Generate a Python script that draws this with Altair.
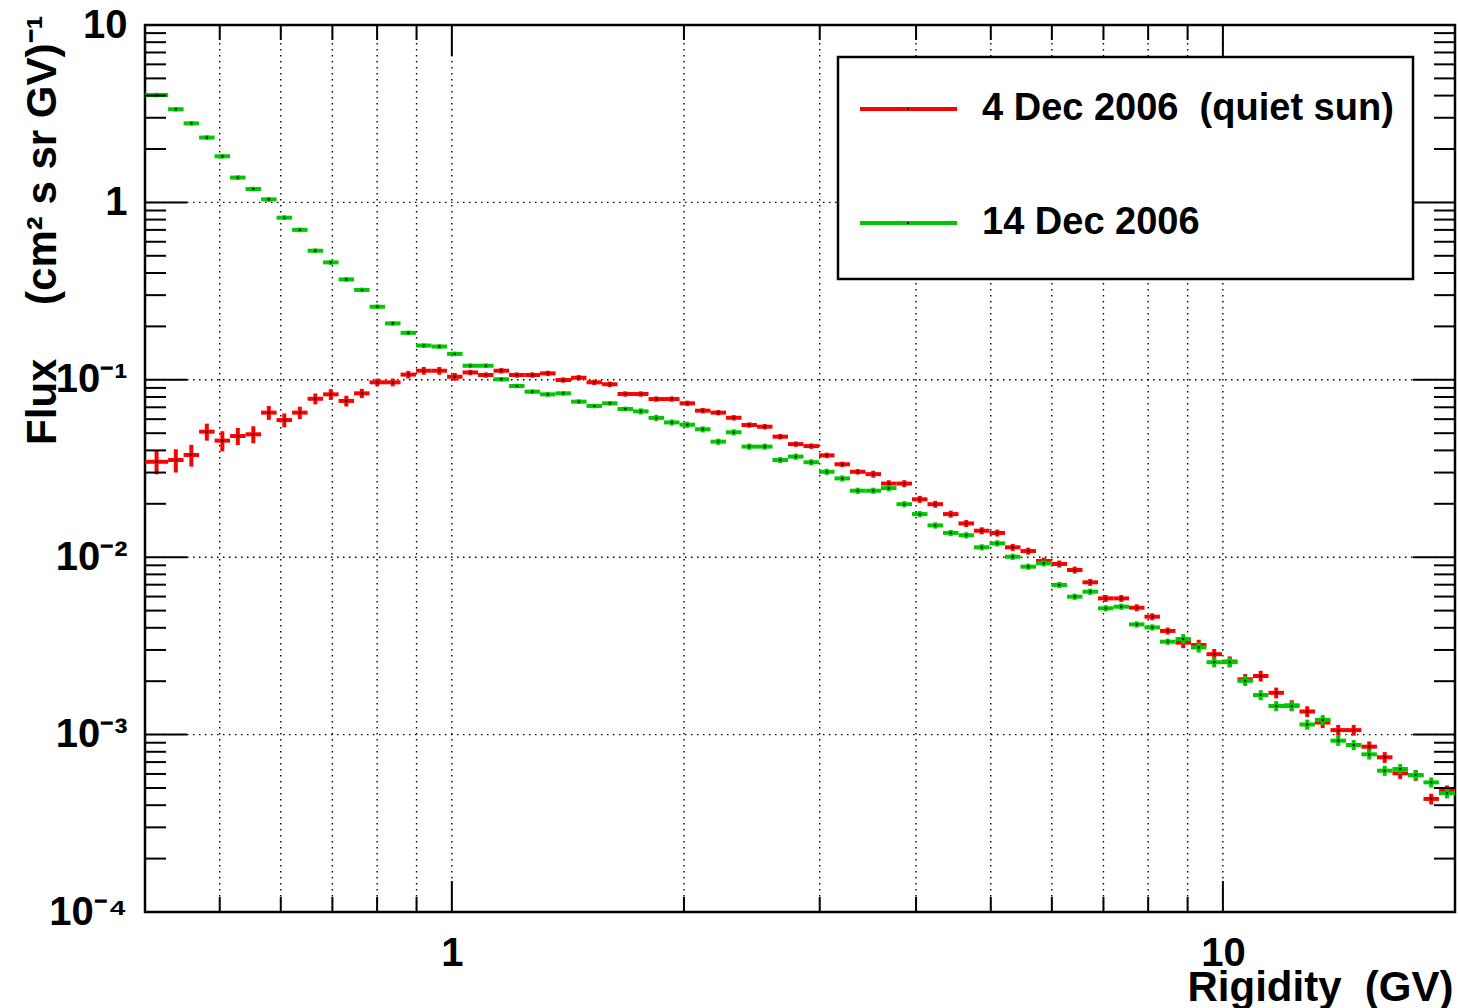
import math
import altair as alt
import pandas as pd

# ---------------- data ----------------
R_MIN, R_MAX = 0.4, 20.0            # rigidity range of the histogram (GV)
FIRST_INNER_EDGE_LOG = -0.368       # log10 of the first inner bin edge
LOG_BIN_WIDTH = 0.0201              # bin width in decades
N_BINS = 84

SERIES_NAMES = ["4 Dec 2006\u00a0\u00a0(quiet sun)", "14 Dec 2006"]
SERIES_COLORS = ["#ff0000", "#00c800"]

FLUX_QUIET = [
    0.0345, 0.0353, 0.0377, 0.0510, 0.0454, 0.0482, 0.0493, 0.0653, 0.0593, 0.0653,
    0.0782, 0.0828, 0.0760, 0.0839, 0.0968, 0.0968, 0.107, 0.1125, 0.1125, 0.104,
    0.110, 0.1064, 0.1125, 0.1064, 0.1064, 0.1087, 0.0997, 0.1027, 0.0968, 0.0944,
    0.0832, 0.0832, 0.0779, 0.0779, 0.0737, 0.0670, 0.0653, 0.0611, 0.0556, 0.0544,
    0.0478, 0.0434, 0.0423, 0.0375, 0.0334, 0.0303, 0.0294, 0.0260, 0.0260, 0.0212,
    0.0199, 0.0175, 0.0155, 0.0141, 0.0137, 0.01137, 0.01083, 0.00952, 0.00916, 0.00847,
    0.00722, 0.00586, 0.00586, 0.00519, 0.00462, 0.00384, 0.00330, 0.00320, 0.00284, 0.00258,
    0.00205, 0.00214, 0.00172, 0.00146, 0.00135, 0.00117, 0.00106, 0.00106, 0.000855, 0.000745,
    0.000605, 0.000590, 0.000434, 0.000483,
]
FLUX_DEC14 = [
    4.03, 3.35, 2.79, 2.32, 1.82, 1.38, 1.19, 1.04, 0.82, 0.70,
    0.534, 0.459, 0.368, 0.321, 0.258, 0.208, 0.184, 0.156, 0.154, 0.140,
    0.120, 0.120, 0.1007, 0.0923, 0.0857, 0.0828, 0.0839, 0.0753, 0.0712, 0.0737,
    0.0685, 0.0664, 0.0610, 0.0575, 0.0558, 0.0526, 0.0448, 0.0506, 0.0420, 0.0420,
    0.0353, 0.0369, 0.0343, 0.0303, 0.0278, 0.0237, 0.0237, 0.0245, 0.0199, 0.0175,
    0.0151, 0.0137, 0.0133, 0.01137, 0.01197, 0.01006, 0.00884, 0.00924, 0.00697, 0.00599,
    0.00639, 0.00515, 0.00526, 0.00418, 0.00402, 0.00334, 0.00346, 0.00310, 0.00256, 0.00256,
    0.00201, 0.00167, 0.00145, 0.00145, 0.00114, 0.00121, 0.000924, 0.000874, 0.000774, 0.000626,
    0.000640, 0.000592, 0.000538, 0.000467,
]
# relative statistical errors
ERR_QUIET = [
    0.15, 0.15, 0.14, 0.11, 0.13, 0.11, 0.11, 0.09, 0.09, 0.08,
    0.07, 0.07, 0.07, 0.06, 0.05, 0.05, 0.05, 0.05, 0.05, 0.05,
    0.035, 0.035, 0.035, 0.035, 0.035, 0.035, 0.035, 0.035, 0.035, 0.035,
    0.035, 0.035, 0.035, 0.035, 0.035, 0.035, 0.035, 0.035, 0.035, 0.035,
    0.035, 0.035, 0.035, 0.035, 0.035, 0.035, 0.045, 0.045, 0.045, 0.045,
    0.045, 0.045, 0.045, 0.045, 0.045, 0.045, 0.045, 0.045, 0.045, 0.045,
    0.045, 0.045, 0.045, 0.045, 0.045, 0.045, 0.07, 0.07, 0.07, 0.07,
    0.07, 0.07, 0.07, 0.07, 0.07, 0.07, 0.07, 0.07, 0.07, 0.07,
    0.07, 0.07, 0.07, 0.07,
]
ERR_DEC14 = [
    0.03, 0.03, 0.03, 0.03, 0.03, 0.03, 0.03, 0.03, 0.03, 0.03,
    0.03, 0.03, 0.03, 0.03, 0.03, 0.03, 0.03, 0.03, 0.03, 0.03,
    0.03, 0.03, 0.03, 0.03, 0.03, 0.03, 0.03, 0.03, 0.03, 0.03,
    0.03, 0.04, 0.04, 0.04, 0.04, 0.04, 0.04, 0.04, 0.04, 0.04,
    0.04, 0.04, 0.04, 0.04, 0.04, 0.04, 0.04, 0.04, 0.04, 0.04,
    0.04, 0.04, 0.04, 0.04, 0.04, 0.04, 0.04, 0.04, 0.04, 0.04,
    0.04, 0.04, 0.04, 0.04, 0.04, 0.04, 0.065, 0.065, 0.065, 0.065,
    0.065, 0.065, 0.065, 0.065, 0.065, 0.065, 0.065, 0.065, 0.065, 0.065,
    0.065, 0.065, 0.065, 0.065,
]

X_LABEL_VALUES = [1, 10]
X_LABELS = ["1", "10"]
X_MINOR = [0.5, 0.6, 0.7, 0.8, 0.9, 2, 3, 4, 5, 6, 7, 8, 9]
X_GRID = [0.5, 0.6, 0.7, 0.8, 0.9, 1, 2, 3, 4, 5, 6, 7, 8, 9, 10]
Y_DECADES = [1e-4, 1e-3, 1e-2, 1e-1, 1, 10]
Y_LABELS = ["10\u207b\u2074", "10\u207b\u00b3", "10\u207b\u00b2", "10\u207b\u00b9", "1", "10"]
Y_GRID = [1e-3, 1e-2, 1e-1, 1]
Y_MINOR = [m * 10.0 ** e for e in range(-4, 1) for m in range(2, 10)]

X_TITLE = "Rigidity\u00a0\u00a0(GV)"
Y_TITLE = "Flux\u2002\u2002\u00a0(cm\u00b2 s sr GV)\u207b\u00b9"

# ---------------- layout / style ----------------
FONT = "Liberation Sans"
W, H = 1310, 887

edges_log = ([math.log10(R_MIN)]
             + [FIRST_INNER_EDGE_LOG + LOG_BIN_WIDTH * k for k in range(N_BINS - 1)]
             + [math.log10(R_MAX)])


def series_frame(flux, err):
    rows = []
    for i, (f, e) in enumerate(zip(flux, err)):
        a, b = edges_log[i], edges_log[i + 1]
        rows.append(dict(lo=10 ** a, hi=10 ** b, center=10 ** ((a + b) / 2),
                         flux=f, flux_lo=f * (1 - e), flux_hi=f * (1 + e)))
    return pd.DataFrame(rows)


def label_expr(values, labels):
    expr = "''"
    for v, lab in zip(values, labels):
        expr = f"abs(log(datum.value)/LN10 - ({math.log10(v)})) < 0.01 ? '{lab}' : ({expr})"
    return expr


XS = alt.Scale(type="log", domain=[R_MIN, R_MAX], nice=False)
YS = alt.Scale(type="log", domain=[1e-4, 10], nice=False)

X_AXIS = alt.Axis(values=X_LABEL_VALUES, labelExpr=label_expr(X_LABEL_VALUES, X_LABELS),
                  ticks=False, domain=False, grid=False,
                  labelFont=FONT, labelFontSize=40, labelFontWeight="bold", labelColor="black",
                  labelPadding=21, labelFlush=False, labelOverlap=False,
                  title=X_TITLE, titleFont=FONT, titleFontSize=42, titleFontWeight="bold",
                  titleColor="black", titleAlign="right", titleAnchor="end",
                  titleX=W - 2, titleY=88, titleBaseline="alphabetic")
Y_AXIS = alt.Axis(values=Y_DECADES, labelExpr=label_expr(Y_DECADES, Y_LABELS),
                  ticks=False, domain=False, grid=False,
                  labelFont=FONT, labelFontSize=40, labelFontWeight="bold", labelColor="black",
                  labelPadding=18, labelBaseline="middle", labelFlush=False, labelOverlap=False,
                  title=Y_TITLE, titleFont=FONT, titleFontSize=42, titleFontWeight="bold",
                  titleColor="black", titleAngle=270, titleAlign="right",
                  titleBaseline="middle", titleX=-103, titleY=-10)

DOT = dict(color="black", strokeWidth=1.4, strokeDash=[1.5, 4.5])

grid_v = alt.Chart(pd.DataFrame({"v": X_GRID})).mark_rule(**DOT).encode(
    x=alt.X("v:Q", scale=XS, axis=X_AXIS), y=alt.value(0), y2=alt.value(H))
grid_h = alt.Chart(pd.DataFrame({"v": Y_GRID})).mark_rule(**DOT).encode(
    y=alt.Y("v:Q", scale=YS, axis=Y_AXIS), x=alt.value(0), x2=alt.value(W))

layers = [grid_v, grid_h]
for flux, err, col in [(FLUX_QUIET, ERR_QUIET, SERIES_COLORS[0]),
                       (FLUX_DEC14, ERR_DEC14, SERIES_COLORS[1])]:
    df = series_frame(flux, err)
    base = alt.Chart(df)
    bars = base.mark_rule(color=col, strokeWidth=4).encode(
        x=alt.X("lo:Q", scale=XS, axis=X_AXIS), x2="hi:Q",
        y=alt.Y("flux:Q", scale=YS, axis=Y_AXIS))
    errs = base.mark_rule(color=col, strokeWidth=4).encode(
        x=alt.X("center:Q", scale=XS, axis=X_AXIS),
        y=alt.Y("flux_lo:Q", scale=YS, axis=Y_AXIS), y2="flux_hi:Q")
    dots = base.mark_square(color="black", size=4, opacity=1).encode(
        x=alt.X("center:Q", scale=XS, axis=X_AXIS),
        y=alt.Y("flux:Q", scale=YS, axis=Y_AXIS))
    layers += [bars, errs, dots]

# legend box (drawn by hand, ROOT style)
one = pd.DataFrame({"a": [0]})
layers.append(alt.Chart(one).mark_rect(fill="white", stroke="black", strokeWidth=2.5).encode(
    x=alt.value(693), x2=alt.value(1268), y=alt.value(32), y2=alt.value(254)))
for name, col, yrow in zip(SERIES_NAMES, SERIES_COLORS, [84, 198]):
    layers.append(alt.Chart(one).mark_rule(color=col, strokeWidth=4).encode(
        x=alt.value(715), x2=alt.value(812), y=alt.value(yrow)))
    layers.append(alt.Chart(one).mark_square(color="black", size=4, opacity=1).encode(
        x=alt.value(763), y=alt.value(yrow)))
    layers.append(alt.Chart(one).mark_text(
        align="left", baseline="middle", font=FONT, fontSize=38, fontWeight="bold",
        color="black").encode(x=alt.value(837), y=alt.value(yrow), text=alt.value(name)))

# inward ticks on all four sides
TICK = dict(color="black", strokeWidth=2)
ymaj = pd.DataFrame({"v": Y_GRID})
ymin = pd.DataFrame({"v": Y_MINOR})
xmaj = pd.DataFrame({"v": X_LABEL_VALUES})
xmin = pd.DataFrame({"v": X_MINOR})
for d, ln in [(ymaj, 42), (ymin, 21)]:
    layers.append(alt.Chart(d).mark_rule(**TICK).encode(
        y=alt.Y("v:Q", scale=YS, axis=Y_AXIS), x=alt.value(0), x2=alt.value(ln)))
    layers.append(alt.Chart(d).mark_rule(**TICK).encode(
        y=alt.Y("v:Q", scale=YS, axis=Y_AXIS), x=alt.value(W), x2=alt.value(W - ln)))
for d, ln in [(xmaj, 31), (xmin, 15)]:
    layers.append(alt.Chart(d).mark_rule(**TICK).encode(
        x=alt.X("v:Q", scale=XS, axis=X_AXIS), y=alt.value(H), y2=alt.value(H - ln)))
    layers.append(alt.Chart(d).mark_rule(**TICK).encode(
        x=alt.X("v:Q", scale=XS, axis=X_AXIS), y=alt.value(0), y2=alt.value(ln)))

chart = alt.layer(*layers).properties(
    width=W, height=H,
    autosize=alt.AutoSizeParams(type="none"),
    padding={"left": 145, "top": 25, "right": 3, "bottom": 96},
    background="white",
).configure_view(stroke="black", strokeWidth=2.5)

chart.save("out.html", embed_options={"renderer": "svg", "actions": False})
